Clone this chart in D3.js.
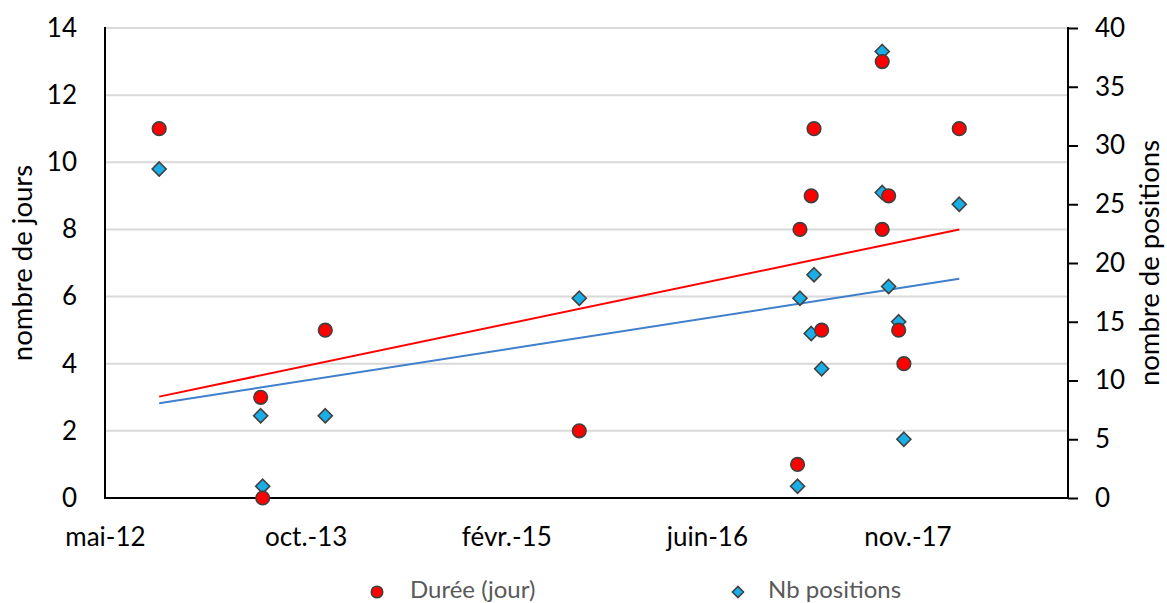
<!DOCTYPE html>
<html>
<head>
<meta charset="utf-8">
<script src="https://cdn.jsdelivr.net/npm/d3@7"></script>
<style>
  html, body { margin: 0; padding: 0; background: #fff; }
  svg { display: block; font-family: Lato, "Open Sans", sans-serif; }
</style>
</head>
<body>
<svg id="chart" width="1167" height="603"></svg>
<script>
// ---- data ----
const dates     = ["2012-10-03","2013-06-13","2013-06-18","2013-11-21","2015-08-16","2017-02-10","2017-02-16","2017-03-16",
                   "2017-03-23","2017-04-11","2017-09-09","2017-09-09","2017-09-25","2017-10-20","2017-11-02","2018-03-20"];
const duree     = [11, 3, 0, 5, 2, 1, 8, 9, 11, 5, 13, 8, 9, 5, 4, 11];
const positions = [28, 7, 1, 7, 17, 1, 17, 14, 19, 11, 38, 26, 18, 15, 5, 25];
const trendDuree     = [3.02, 8.0];   // trend line values at first and last date
const trendPositions = [8.06, 18.66];
const xTickDates  = ["2012-05-21","2013-10-03","2015-02-15","2016-06-29","2017-11-11"];
const xTickLabels = ["mai-12","oct.-13","févr.-15","juin-16","nov.-17"];
const xDomain     = ["2012-05-21","2018-12-16"];
const yLeftTicks  = [0, 2, 4, 6, 8, 10, 12, 14];
const yRightTicks = [0, 5, 10, 15, 20, 25, 30, 35, 40];
const seriesNames = ["Durée (jour)", "Nb positions"];
const axisTitles  = ["nombre de jours", "nombre de positions"];

// ---- layout ----
const svg = d3.select("#chart");
const L = 105, R = 1068, T = 28, B = 498;
const parse = d3.utcParse("%Y-%m-%d");

const x  = d3.scaleUtc().domain(xDomain.map(parse)).range([L, R]);
const yL = d3.scaleLinear().domain([0, 14]).range([B, T]);
const yR = d3.scaleLinear().domain([0, 40]).range([B, T]);

const pts = dates.map((d, i) => ({ date: parse(d), dur: duree[i], pos: positions[i] }));

// gridlines
svg.append("g").selectAll("line").data(yLeftTicks.filter(v => v > 0)).join("line")
  .attr("x1", L).attr("x2", R)
  .attr("y1", d => yL(d)).attr("y2", d => yL(d))
  .attr("stroke", "#d9d9d9").attr("stroke-width", 2);

// left axis
const gl = svg.append("g").attr("transform", `translate(${L},0)`)
  .call(d3.axisLeft(yL).tickValues(yLeftTicks).tickSize(0).tickPadding(28));
gl.select(".domain").remove();
gl.selectAll("text").attr("font-size", 26).attr("fill", "#000").attr("font-family", "Lato, sans-serif");

// right axis
const gr = svg.append("g").attr("transform", `translate(${R},0)`)
  .call(d3.axisRight(yR).tickValues(yRightTicks).tickSize(10).tickPadding(17));
gr.select(".domain").remove();
gr.selectAll("line").attr("stroke", "#000").attr("stroke-width", 2);
gr.selectAll("text").attr("font-size", 26).attr("fill", "#000").attr("font-family", "Lato, sans-serif");

// bottom axis
const gb = svg.append("g").attr("transform", `translate(0,${B})`)
  .call(d3.axisBottom(x).tickValues(xTickDates.map(parse))
    .tickFormat((d, i) => xTickLabels[i]).tickSize(0).tickPadding(30));
gb.select(".domain").remove();
gb.selectAll("text").attr("font-size", 26).attr("fill", "#000").attr("font-family", "Lato, sans-serif");

// axis lines
const axisLines = [[L, T, L, B], [L, B, R, B], [R, T, R, B]];
svg.append("g").selectAll("line").data(axisLines).join("line")
  .attr("x1", d => d[0]).attr("y1", d => d[1]).attr("x2", d => d[2]).attr("y2", d => d[3])
  .attr("stroke", "#000").attr("stroke-width", 2).attr("stroke-linecap", "square");

// axis titles
svg.append("text").attr("transform", `translate(25,${(T + B) / 2}) rotate(-90)`)
  .attr("text-anchor", "middle").attr("dominant-baseline", "middle")
  .attr("font-size", 27.5).attr("fill", "#000").text(axisTitles[0]);
svg.append("text").attr("transform", `translate(1152,${(T + B) / 2}) rotate(-90)`)
  .attr("text-anchor", "middle").attr("dominant-baseline", "middle")
  .attr("font-size", 27.5).attr("fill", "#000").text(axisTitles[1]);

// trend lines
const ext = d3.extent(pts, d => d.date);
svg.append("line")
  .attr("x1", x(ext[0])).attr("x2", x(ext[1]))
  .attr("y1", yR(trendPositions[0])).attr("y2", yR(trendPositions[1]))
  .attr("stroke", "#3f7fcc").attr("stroke-width", 2);
svg.append("line")
  .attr("x1", x(ext[0])).attr("x2", x(ext[1]))
  .attr("y1", yL(trendDuree[0])).attr("y2", yL(trendDuree[1]))
  .attr("stroke", "#ff0000").attr("stroke-width", 2);

// diamonds (Nb positions)
const diamond = d3.symbol().type(d3.symbolDiamond2).size(125);
svg.append("g").selectAll("path").data(pts).join("path")
  .attr("d", diamond)
  .attr("transform", d => `translate(${x(d.date)},${yR(d.pos)})`)
  .attr("fill", "#1aaee6").attr("stroke", "#404040").attr("stroke-width", 1.6);

// circles (Durée)
svg.append("g").selectAll("circle").data(pts).join("circle")
  .attr("cx", d => x(d.date)).attr("cy", d => yL(d.dur)).attr("r", 6.8)
  .attr("fill", "#ff0000").attr("stroke", "#404040").attr("stroke-width", 1.6);

// legend
const lg = svg.append("g");
lg.append("circle").attr("cx", 377).attr("cy", 592).attr("r", 5.8)
  .attr("fill", "#ff0000").attr("stroke", "#404040").attr("stroke-width", 1.5);
lg.append("text").attr("x", 410).attr("y", 592).attr("dominant-baseline", "middle")
  .attr("font-size", 24).attr("fill", "#595959").text(seriesNames[0]);
lg.append("path").attr("d", d3.symbol().type(d3.symbolDiamond2).size(80))
  .attr("transform", "translate(738,592)")
  .attr("fill", "#1aaee6").attr("stroke", "#404040").attr("stroke-width", 1.5);
lg.append("text").attr("x", 768).attr("y", 592).attr("dominant-baseline", "middle")
  .attr("font-size", 24).attr("fill", "#595959").text(seriesNames[1]);
</script>
</body>
</html>
